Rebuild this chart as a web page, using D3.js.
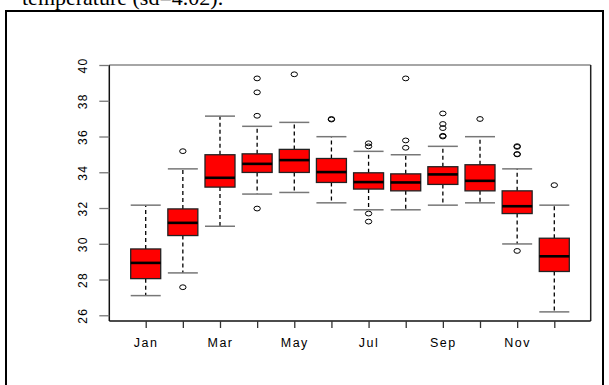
<!DOCTYPE html>
<html><head><meta charset="utf-8">
<script src="https://cdn.jsdelivr.net/npm/d3@7"></script>
<style>body{margin:0;background:#fff}svg{display:block}</style>
</head><body>
<script>
const months = ["Jan","Feb","Mar","Apr","May","Jun","Jul","Aug","Sep","Oct","Nov","Dec"];
const shownLabels = ["Jan","Mar","May","Jul","Sep","Nov"];
const whiskerLow  = [27.10,28.37,30.98,32.78,32.87,32.29,31.90,31.90,32.16,32.29,29.99,26.19];
const q1          = [28.05,30.46,33.17,33.99,33.99,33.43,33.06,32.96,33.32,32.96,31.69,28.45];
const median      = [28.93,31.17,33.69,34.47,34.68,34.01,33.45,33.43,33.88,33.52,32.10,29.30];
const q3          = [29.71,31.95,34.98,35.03,35.28,34.77,33.97,33.91,34.31,34.42,32.96,30.31];
const whiskerHigh = [32.16,34.19,37.14,36.57,36.79,35.99,35.17,34.98,35.45,35.99,34.19,32.16];
const outliers    = [[],[35.18,27.57],[],[39.25,38.47,37.16,31.97],[39.48],[36.98,36.95],
                     [35.62,35.45,31.69,31.24],[39.25,35.78,35.37],[37.29,36.70,36.47,36.04,36.00],
                     [36.98],[35.46,35.42,35.02,35.00,29.60],[33.28]];
const yTicks = [26,28,30,32,34,36,38,40];
const title = "temperature (sd=4.02).";

const W = 609, H = 385;
const svg = d3.select("body").append("svg").attr("width", W).attr("height", H);

// document frame and caption
svg.append("text").attr("x", 22).attr("y", 5).attr("font-family", "Liberation Serif, Times New Roman, serif")
  .attr("font-size", 22).attr("fill", "#000").text(title);
svg.append("rect").attr("x", 6).attr("y", 11).attr("width", 597).attr("height", 390)
  .attr("fill", "none").attr("stroke", "#000").attr("stroke-width", 2);

const pL = 109.3, pR = 590.7, pT = 65, pB = 321;
const x = d3.scaleLinear().domain([0.02, 12.98]).range([pL, pR]);
const y = d3.scaleLinear().domain([25.68, 40]).range([pB, pT]);
const bw = 30;

// plot frame
svg.append("line").attr("x1", pL).attr("x2", pR).attr("y1", pT).attr("y2", pT).attr("stroke", "#888").attr("stroke-width", 1.5);
svg.append("line").attr("x1", pR).attr("x2", pR).attr("y1", pT).attr("y2", pB).attr("stroke", "#222").attr("stroke-width", 1.5);
svg.append("line").attr("x1", pL).attr("x2", pR).attr("y1", pB).attr("y2", pB).attr("stroke", "#111").attr("stroke-width", 1.5);
svg.append("line").attr("x1", pL).attr("x2", pL).attr("y1", pT).attr("y2", pB).attr("stroke", "#111").attr("stroke-width", 1.5);

// y axis
const yAxis = d3.axisLeft(y).tickValues(yTicks).tickSize(10).tickFormat(d3.format("d"));
const gy = svg.append("g").attr("transform", `translate(${pL},0)`).call(yAxis);
gy.select(".domain").remove();
gy.selectAll(".tick line").attr("stroke", "#777").attr("stroke-width", 1.3);
gy.selectAll(".tick text").attr("font-family", "Liberation Sans, Arial, sans-serif").attr("font-size", 12)
  .attr("letter-spacing", "1.2px")
  .attr("fill", "#000").attr("text-anchor", "middle").attr("x", 0).attr("dy", 0)
  .attr("transform", "translate(-22.5,0) rotate(-90)");

// x axis
const idx = months.map((m, i) => i + 1);
const xAxis = d3.axisBottom(x).tickValues(idx).tickSize(7)
  .tickFormat(i => shownLabels.includes(months[i - 1]) ? months[i - 1] : "");
const gx = svg.append("g").attr("transform", `translate(0,${pB})`).call(xAxis);
gx.select(".domain").remove();
gx.selectAll(".tick line").attr("stroke", "#333").attr("stroke-width", 1.3);
gx.selectAll(".tick text").attr("font-family", "Liberation Sans, Arial, sans-serif").attr("font-size", 12.5)
  .attr("letter-spacing", "1.5px")
  .attr("fill", "#000").attr("y", 22).attr("dy", "0.32em");

// boxes
const g = svg.append("g");
months.forEach((m, i) => {
  const cx = x(i + 1);
  g.append("line").attr("x1", cx).attr("x2", cx).attr("y1", y(q3[i])).attr("y2", y(whiskerHigh[i]))
    .attr("stroke", "#000").attr("stroke-width", 1.3).attr("stroke-dasharray", "4,3");
  g.append("line").attr("x1", cx).attr("x2", cx).attr("y1", y(q1[i])).attr("y2", y(whiskerLow[i]))
    .attr("stroke", "#000").attr("stroke-width", 1.3).attr("stroke-dasharray", "4,3");
  [whiskerHigh[i], whiskerLow[i]].forEach(v => {
    g.append("line").attr("x1", cx - bw / 2).attr("x2", cx + bw / 2).attr("y1", y(v)).attr("y2", y(v))
      .attr("stroke", "#777").attr("stroke-width", 1.5);
  });
  g.append("rect").attr("x", cx - bw / 2).attr("width", bw).attr("y", y(q3[i])).attr("height", y(q1[i]) - y(q3[i]))
    .attr("fill", "#ff0000").attr("stroke", "#222").attr("stroke-width", 1.3);
  g.append("line").attr("x1", cx - bw / 2).attr("x2", cx + bw / 2).attr("y1", y(median[i])).attr("y2", y(median[i]))
    .attr("stroke", "#000").attr("stroke-width", 2.6);
  outliers[i].forEach(v => {
    g.append("ellipse").attr("cx", cx).attr("cy", y(v)).attr("rx", 3.2).attr("ry", 2.4)
      .attr("fill", "none").attr("stroke", "#000").attr("stroke-width", 1);
  });
});
</script>
</body></html>
